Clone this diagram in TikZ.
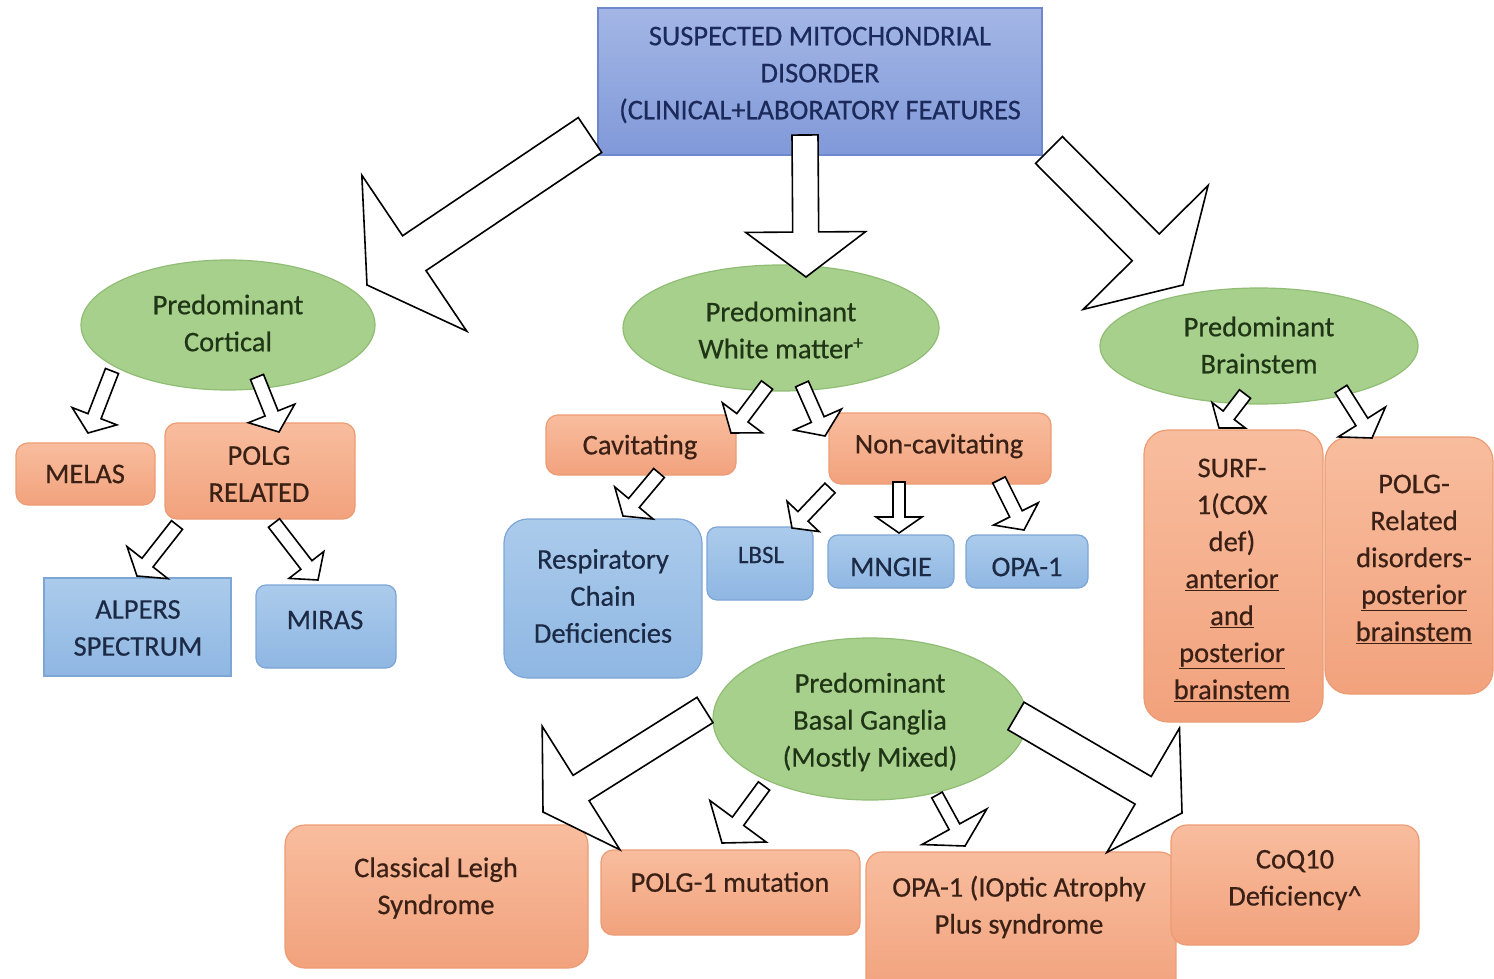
\documentclass[tikz,border=0pt]{standalone}
\usepackage{fontspec}
\setmainfont{Carlito}[FakeBold=0.5]
\usetikzlibrary{calc,shapes.geometric}
\definecolor{topT}{HTML}{A3B6E5}
\definecolor{topB}{HTML}{8199D9}
\definecolor{topD}{HTML}{6E87CE}
\definecolor{grnF}{HTML}{A8D08D}
\definecolor{grnD}{HTML}{90BD74}
\definecolor{orT}{HTML}{F8BD9E}
\definecolor{orB}{HTML}{F2A27D}
\definecolor{orD}{HTML}{EC9C74}
\definecolor{blT}{HTML}{ABCBEB}
\definecolor{blB}{HTML}{8FB7E3}
\definecolor{blD}{HTML}{7DA6D6}
\definecolor{topTxt}{HTML}{1B2A5A}
\definecolor{grnTxt}{HTML}{1F3515}
\definecolor{orTxt}{HTML}{3A2015}
\definecolor{blTxt}{HTML}{1C2A45}
\newcommand{\rbox}[6]{%
  \pgfmathsetmacro\bxcx{(#3+#5)/2}\pgfmathsetmacro\bxcy{(#4+#6)/2}%
  \pgfmathsetmacro\bxw{#5-#3}\pgfmathsetmacro\bxh{#6-#4}%
  \node[#1, minimum width=\bxw pt, minimum height=\bxh pt] (#2) at (\bxcx,\bxcy) {};}
% block arrow: tail, tip, shaft half width, head half width, head length
\newcommand{\barrow}[5]{%
  \coordinate (bh) at ($(#2)!#5pt!(#1)$);
  \draw[blockarrow] ($(#1)!#3pt!90:(#2)$) -- ($(bh)!#3pt!-90:(#1)$) -- ($(bh)!#4pt!-90:(#1)$) -- (#2)
     -- ($(bh)!#4pt!90:(#1)$) -- ($(bh)!#3pt!90:(#1)$) -- ($(#1)!#3pt!-90:(#2)$) -- cycle;}
\begin{document}
\begin{tikzpicture}[x=1pt,y=-1pt,
  base/.style={inner sep=0pt, outer sep=0pt, line width=1.2pt},
  topbox/.style={base, draw=topD, top color=topT, bottom color=topB},
  oval/.style={base, ellipse, draw=grnD, fill=grnF},
  obox/.style={base, draw=orD, top color=orT, bottom color=orB, rounded corners=12pt},
  bbox/.style={base, draw=blD, top color=blT, bottom color=blB, rounded corners=10pt},
  txt/.style={inner sep=0pt, align=center, font=\fontsize{28.5}{37}\selectfont},
  ttop/.style={txt, text=topTxt},
  tgrn/.style={txt, text=grnTxt},
  tor/.style={txt, text=orTxt},
  tbl/.style={txt, text=blTxt},
  blockarrow/.style={draw=black, fill=white, line width=1.6pt, line join=miter}]
\useasboundingbox (0,0) rectangle (1494,979);
\fill[white] (0,0) rectangle (1494,979);

% ---- main box
\rbox{topbox}{top}{598}{8}{1042}{155}
\node[ttop] (top-t) at (820,75) {SUSPECTED MITOCHONDRIAL\\DISORDER\\(CLINICAL+LABORATORY FEATURES};

% ---- ellipses
\node[oval, minimum width=294pt, minimum height=130pt] (cort) at (228,325) {};
\node[tgrn] (cort-t) at (228,323) {Predominant\\Cortical};
\node[oval, minimum width=316pt, minimum height=126pt] (white) at (781,328) {};
\node[tgrn] (white-t) at (781,330) {Predominant\\White matter\textsuperscript{+}};
\node[oval, minimum width=318pt, minimum height=116pt] (brain) at (1259,346) {};
\node[tgrn] (brain-t) at (1259,345) {Predominant\\Brainstem};
\node[oval, minimum width=314pt, minimum height=162pt] (basal) at (870,719) {};
\node[tgrn] (basal-t) at (870,722) {Predominant\\Basal Ganglia\\(Mostly Mixed)};

% ---- orange boxes
\rbox{obox}{melas}{16}{443}{155}{505}
\node[tor] (melas-t) at (85,474) {MELAS};
\rbox{obox}{polg}{165}{423}{355}{519}
\node[tor] (polg-t) at (259,474) {POLG\\RELATED};
\rbox{obox}{cav}{546}{415}{736}{475}
\node[tor] (cav-t) at (640,447) {Cavitating};
\rbox{obox}{noncav}{829}{413}{1051}{484}
\node[tor] (noncav-t) at (939,446) {Non-cavitating};
\rbox{obox, rounded corners=24pt}{surf}{1144}{430}{1323}{722}
\node[tor] (surf-t) at (1232,580) {SURF-\\1(COX\\def)\\\underline{anterior}\\\underline{and}\\\underline{posterior}\\\underline{brainstem}};
\rbox{obox, rounded corners=24pt}{polgrel}{1325}{437}{1493}{694}
\node[tor] (polgrel-t) at (1414,559) {POLG-\\Related\\disorders-\\\underline{posterior}\\\underline{brainstem}};
\rbox{obox, rounded corners=20pt}{leigh}{285}{825}{588}{968}
\node[tor] (leigh-t) at (436,888) {Classical Leigh\\Syndrome};
\rbox{obox}{polg1}{601}{850}{860}{935}
\node[tor] (polg1-t) at (730,882) {POLG-1 mutation};
\rbox{obox, rounded corners=16pt}{opab}{866}{852}{1176}{995}
\node[tor] (opab-t) at (1019,907) {OPA-1 (IOptic Atrophy\\Plus syndrome};
\rbox{obox, rounded corners=16pt}{coq}{1171}{825}{1419}{945}
\node[tor] (coq-t) at (1295,880) {CoQ10\\Deficiency\textasciicircum};

% ---- blue boxes
\rbox{bbox, rounded corners=0pt}{alpers}{44}{578}{231}{676}
\node[tbl] (alpers-t) at (138,628) {ALPERS\\SPECTRUM};
\rbox{bbox}{miras}{256}{585}{396}{668}
\node[tbl] (miras-t) at (325,620) {MIRAS};
\rbox{bbox, rounded corners=24pt}{resp}{504}{519}{702}{678}
\node[tbl] (resp-t) at (603,596) {Respiratory\\Chain\\Deficiencies};
\rbox{bbox}{lbsl}{707}{527}{813}{600}
\node[tbl, font=\fontsize{25}{30}\selectfont] (lbsl-t) at (761,555) {LBSL};
\rbox{bbox}{mngie}{828}{535}{954}{588}
\node[tbl] (mngie-t) at (891,567) {MNGIE};
\rbox{bbox}{opa}{966}{535}{1088}{588}
\node[tbl] (opa-t) at (1027,567) {OPA-1};

% ---- arrow end points
\coordinate (a1s) at (590,135);  \coordinate (a1e) at (367,285);
\coordinate (a2s) at (805,135);  \coordinate (a2e) at (806,277);
\coordinate (a3s) at (1049,150); \coordinate (a3e) at (1183,285);
\coordinate (a4s) at (112,371);  \coordinate (a4e) at (88,433);
\coordinate (a5s) at (257,377);  \coordinate (a5e) at (279,432);
\coordinate (a6s) at (177,525);  \coordinate (a6e) at (137,576);
\coordinate (a7s) at (274,523);  \coordinate (a7e) at (318,580);
\coordinate (a8s) at (767,385);  \coordinate (a8e) at (731,433);
\coordinate (a9s) at (802,384);  \coordinate (a9e) at (825,436);
\coordinate (a10s) at (659,473); \coordinate (a10e) at (623,516);
\coordinate (a11s) at (830,488); \coordinate (a11e) at (792,528);
\coordinate (a12s) at (899,482); \coordinate (a12e) at (899,533);
\coordinate (a13s) at (999,480); \coordinate (a13e) at (1024,530);
\coordinate (a14s) at (1245,394);\coordinate (a14e) at (1219,428);
\coordinate (a15s) at (1341,389);\coordinate (a15e) at (1372,438);
\coordinate (a16s) at (705,710); \coordinate (a16e) at (543,812);
\coordinate (a17s) at (764,786); \coordinate (a17e) at (722,843);
\coordinate (a18s) at (937,795); \coordinate (a18e) at (965,846);
\coordinate (a19s) at (1016,716);\coordinate (a19e) at (1182,813);

% ---- block arrows
\barrow{a1s}{a1e}{21}{94}{57}
\barrow{a2s}{a2e}{13}{60}{45}
\barrow{a3s}{a3e}{19}{88}{53}
\barrow{a4s}{a4e}{7}{24}{18}
\barrow{a5s}{a5e}{7}{25}{20}
\barrow{a6s}{a6e}{7}{26}{17}
\barrow{a7s}{a7e}{7}{22}{19}
\barrow{a8s}{a8e}{7}{25}{19}
\barrow{a9s}{a9e}{7}{26}{18}
\barrow{a10s}{a10e}{7}{25}{17}
\barrow{a11s}{a11e}{7}{22}{16}
\barrow{a12s}{a12e}{6}{23}{16}
\barrow{a13s}{a13e}{7}{25}{18}
\barrow{a14s}{a14e}{7}{21}{16}
\barrow{a15s}{a15e}{7}{28}{19}
\barrow{a16s}{a16e}{15}{73}{45}
\barrow{a17s}{a17e}{7}{35}{27}
\barrow{a18s}{a18e}{6}{37}{22}
\barrow{a19s}{a19e}{16}{72}{45}
\end{tikzpicture}
\end{document}
